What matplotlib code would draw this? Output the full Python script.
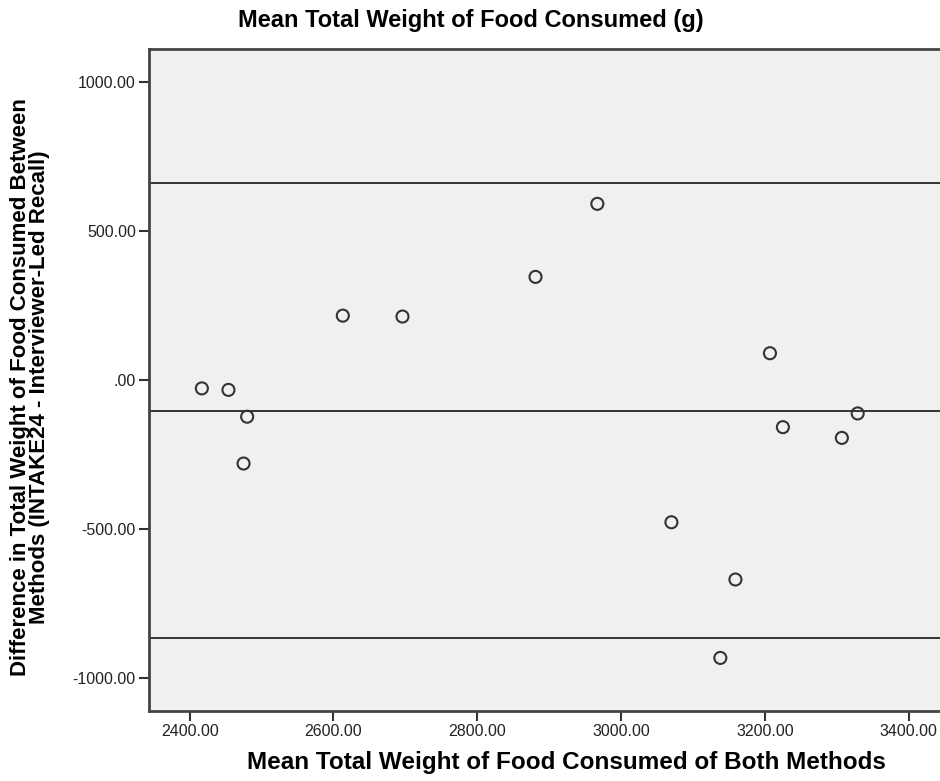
import matplotlib
matplotlib.use("Agg")
import matplotlib.pyplot as plt

plt.rcParams['font.family'] = ['Liberation Sans', 'DejaVu Sans']

# mean of both methods (g) and difference INTAKE24 - recall (g)
mean_both = [2417, 2454, 2480, 2475, 2613, 2696, 2881, 2967,
             3070, 3159, 3138, 3207, 3225, 3329, 3307]
difference = [-28, -33, -123, -280, 216, 213, 346, 591,
              -477, -669, -932, 90, -158, -112, -194]

mean_diff = -103.3
upper_loa = 660
lower_loa = -866

xticks = [2400, 2600, 2800, 3000, 3200, 3400]
yticks = [-1000, -500, 0, 500, 1000]
ylabels = ['-1000.00', '-500.00', '.00', '500.00', '1000.00']

fig = plt.figure(figsize=(9.4, 7.81), dpi=100)
ax = fig.add_axes([149 / 940, 70 / 781, 800 / 940, 662.5 / 781])
ax.set_facecolor('#f0f0f0')

for yv in (upper_loa, mean_diff, lower_loa):
    ax.axhline(yv, color='#333333', lw=1.4, zorder=1)

ax.scatter(mean_both, difference, s=75, facecolors='none',
           edgecolors='#333333', linewidths=1.5, zorder=3)

ax.set_xlim(2343.5, 3456)
ax.set_ylim(-1110, 1112)
ax.set_xticks(xticks)
ax.set_xticklabels([f'{v:.2f}' for v in xticks])
ax.set_yticks(yticks)
ax.set_yticklabels(ylabels)
ax.tick_params(direction='out', length=7.5, width=1.5, color='#333333',
               labelsize=11.5, labelcolor='#222222', pad=2)

ax.spines['right'].set_visible(False)
for side in ('left', 'bottom', 'top'):
    ax.spines[side].set_linewidth(2)
    ax.spines[side].set_color('#444444')

fig.text(471 / 940, 1 - 21 / 781, 'Mean Total Weight of Food Consumed (g)',
         ha='center', va='center', fontsize=17, fontweight='bold')
fig.text(566 / 940, 1 - 763 / 781, 'Mean Total Weight of Food Consumed of Both Methods',
         ha='center', va='center', fontsize=17.5, fontweight='bold')
fig.text(30 / 940, 1 - 387 / 781,
         'Difference in Total Weight of Food Consumed Between\nMethods (INTAKE24 - Interviewer-Led Recall)',
         ha='center', va='center', rotation=90, fontsize=16, fontweight='bold',
         linespacing=0.85)

fig.savefig('out.png', dpi=100)
